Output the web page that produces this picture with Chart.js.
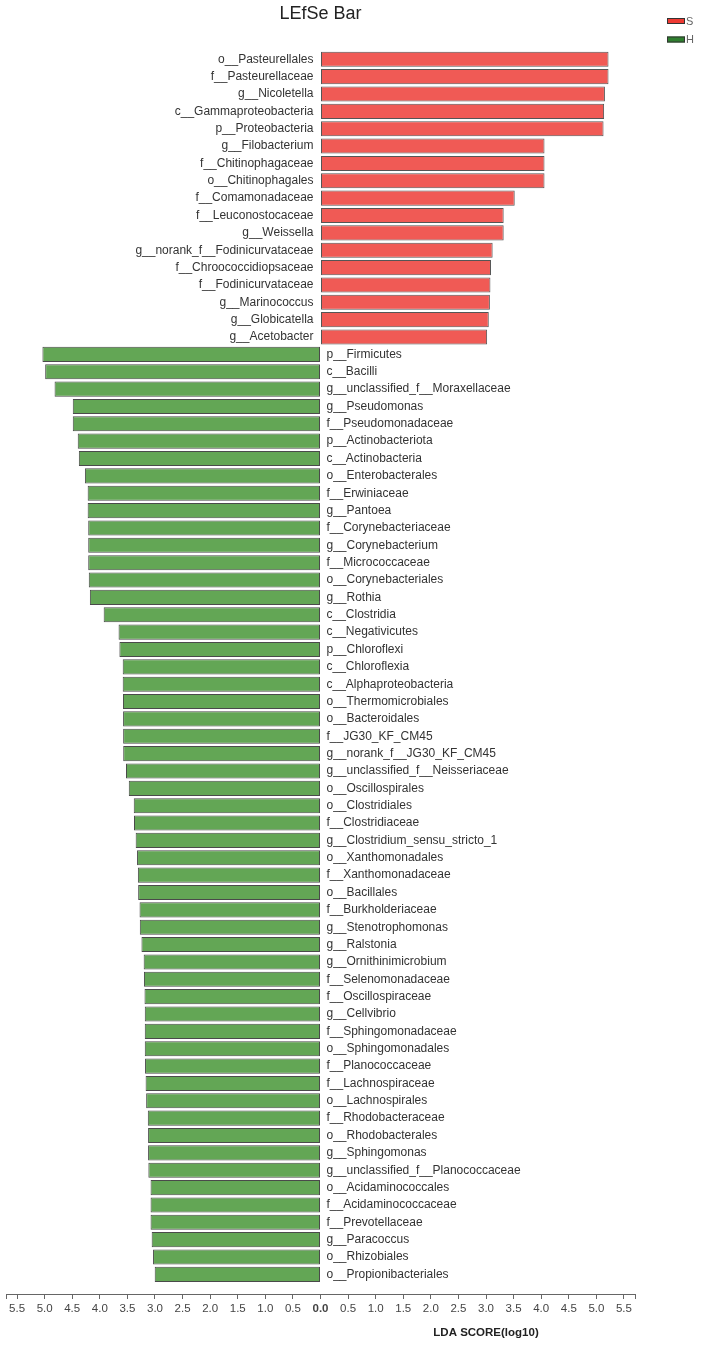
<!DOCTYPE html>
<html>
<head>
<meta charset="utf-8">
<title>LEfSe Bar</title>
<script src="https://cdn.jsdelivr.net/npm/chart.js@4.4.1/dist/chart.umd.min.js"></script>
<style>
  html, body { margin: 0; padding: 0; background: #fff; }
  #wrap { width: 702px; height: 1346px; }
</style>
</head>
<body>
<div id="wrap"><canvas id="lefse" width="702" height="1346"></canvas></div>
<script>
// groups and colours
const groups = ['S', 'H'];
const barColors = ['#F05A55', '#63A655'];
const legendColors = ['#EE3A33', '#2F7F2F'];

// taxa enriched in S (positive side)
const sLabels = [
  'o__Pasteurellales', 'f__Pasteurellaceae', 'g__Nicoletella', 'c__Gammaproteobacteria',
  'p__Proteobacteria', 'g__Filobacterium', 'f__Chitinophagaceae', 'o__Chitinophagales',
  'f__Comamonadaceae', 'f__Leuconostocaceae', 'g__Weissella', 'g__norank_f__Fodinicurvataceae',
  'f__Chroococcidiopsaceae', 'f__Fodinicurvataceae', 'g__Marinococcus', 'g__Globicatella',
  'g__Acetobacter'
];
const sScores = [5.22, 5.22, 5.155, 5.14, 5.13, 4.06, 4.06, 4.06, 3.52, 3.32, 3.32,
  3.12, 3.09, 3.08, 3.07, 3.05, 3.02];

// taxa enriched in H (drawn to the left)
const hLabels = [
  'p__Firmicutes', 'c__Bacilli', 'g__unclassified_f__Moraxellaceae', 'g__Pseudomonas',
  'f__Pseudomonadaceae', 'p__Actinobacteriota', 'c__Actinobacteria', 'o__Enterobacterales',
  'f__Erwiniaceae', 'g__Pantoea', 'f__Corynebacteriaceae', 'g__Corynebacterium',
  'f__Micrococcaceae', 'o__Corynebacteriales', 'g__Rothia', 'c__Clostridia',
  'c__Negativicutes', 'p__Chloroflexi', 'c__Chloroflexia', 'c__Alphaproteobacteria',
  'o__Thermomicrobiales', 'o__Bacteroidales', 'f__JG30_KF_CM45', 'g__norank_f__JG30_KF_CM45',
  'g__unclassified_f__Neisseriaceae', 'o__Oscillospirales', 'o__Clostridiales', 'f__Clostridiaceae',
  'g__Clostridium_sensu_stricto_1', 'o__Xanthomonadales', 'f__Xanthomonadaceae', 'o__Bacillales',
  'f__Burkholderiaceae', 'g__Stenotrophomonas', 'g__Ralstonia', 'g__Ornithinimicrobium',
  'f__Selenomonadaceae', 'f__Oscillospiraceae', 'g__Cellvibrio', 'f__Sphingomonadaceae',
  'o__Sphingomonadales', 'f__Planococcaceae', 'f__Lachnospiraceae', 'o__Lachnospirales',
  'f__Rhodobacteraceae', 'o__Rhodobacterales', 'g__Sphingomonas', 'g__unclassified_f__Planococcaceae',
  'o__Acidaminococcales', 'f__Acidaminococcaceae', 'f__Prevotellaceae', 'g__Paracoccus',
  'o__Rhizobiales', 'o__Propionibacteriales'
];
const hScores = [5.04, 4.99, 4.82, 4.49, 4.49, 4.40, 4.38, 4.27, 4.22, 4.22,
  4.21, 4.21, 4.21, 4.20, 4.18, 3.93, 3.66, 3.645, 3.585, 3.585,
  3.58, 3.578, 3.577, 3.576, 3.525, 3.475, 3.385, 3.38, 3.35, 3.325,
  3.31, 3.305, 3.28, 3.275, 3.245, 3.205, 3.20, 3.19, 3.185, 3.185,
  3.185, 3.18, 3.17, 3.16, 3.13, 3.125, 3.125, 3.12, 3.08, 3.08,
  3.08, 3.06, 3.035, 3.005];

// x axis
const xMin = -5.7, xMax = 5.7;
const tickValues = [-5.7, -5.5, -5.0, -4.5, -4.0, -3.5, -3.0, -2.5, -2.0, -1.5, -1.0, -0.5, 0,
  0.5, 1.0, 1.5, 2.0, 2.5, 3.0, 3.5, 4.0, 4.5, 5.0, 5.5, 5.7];
const axisTitle = 'LDA SCORE(log10)';

const rowCount = sLabels.length + hLabels.length;
const FONT = '"Liberation Sans", Arial, sans-serif';
Chart.defaults.font.family = FONT;

// nom des taxons a cote de l'axe zero
const taxonLabels = {
  id: 'taxonLabels',
  afterDatasetsDraw(chart) {
    const ctx = chart.ctx;
    const x0 = chart.scales.x.getPixelForValue(0);
    ctx.save();
    ctx.font = '12px ' + FONT;
    ctx.fillStyle = '#333';
    ctx.textBaseline = 'middle';
    chart.data.datasets.forEach((ds, d) => {
      const meta = chart.getDatasetMeta(d);
      meta.data.forEach((bar, i) => {
        const positive = ds.data[i].x >= 0;
        ctx.textAlign = positive ? 'right' : 'left';
        ctx.fillText(ds.names[i], positive ? x0 - 7 : x0 + 6, bar.y);
      });
    });
    ctx.restore();
  }
};

// legende en haut a droite + titre de l'axe
const extras = {
  id: 'extras',
  afterDraw(chart) {
    const ctx = chart.ctx;
    const area = chart.chartArea;
    ctx.save();
    groups.forEach((g, i) => {
      const y = 18 + i * 18.5;
      ctx.fillStyle = legendColors[i];
      ctx.fillRect(667, y, 18, 6);
      ctx.strokeStyle = '#333';
      ctx.lineWidth = 1;
      ctx.strokeRect(667.5, y + 0.5, 17, 5);
      ctx.fillStyle = '#666';
      ctx.font = '11px ' + FONT;
      ctx.textAlign = 'left';
      ctx.textBaseline = 'middle';
      ctx.fillText(g, 686, y + 3.5);
    });
    ctx.fillStyle = '#222';
    ctx.font = 'bold 11.5px ' + FONT;
    ctx.textAlign = 'center';
    ctx.textBaseline = 'middle';
    ctx.fillText(axisTitle, chart.scales.x.getPixelForValue(3.0), area.bottom + 39);
    ctx.restore();
  }
};

new Chart(document.getElementById('lefse'), {
  type: 'bar',
  data: {
    datasets: [
      {
        label: groups[0],
        names: sLabels,
        data: sScores.map((v, i) => ({ x: v, y: i })),
        backgroundColor: barColors[0],
        borderColor: '#555',
        borderWidth: 1,
        borderSkipped: false
      },
      {
        label: groups[1],
        names: hLabels,
        data: hScores.map((v, i) => ({ x: -v, y: sLabels.length + i })),
        backgroundColor: barColors[1],
        borderColor: '#4a4a4a',
        borderWidth: 1,
        borderSkipped: false
      }
    ]
  },
  options: {
    indexAxis: 'y',
    responsive: false,
    animation: false,
    grouped: false,
    barPercentage: 0.87,
    categoryPercentage: 1.0,
    layout: { padding: { left: 6, right: 67, top: 0, bottom: 22 } },
    plugins: {
      legend: { display: false },
      tooltip: { enabled: false },
      title: {
        display: true,
        text: 'LEfSe Bar',
        color: '#222',
        font: { size: 18, weight: 'normal' },
        padding: { top: 3, bottom: 26 }
      }
    },
    scales: {
      x: {
        type: 'linear',
        min: xMin,
        max: xMax,
        afterBuildTicks(scale) {
          scale.ticks = tickValues.map(v => ({ value: v }));
        },
        afterFit(scale) { scale.height = 30; },
        grid: { display: true, drawOnChartArea: false, drawTicks: true, tickLength: 5, color: '#666' },
        border: { display: true, color: '#666' },
        ticks: {
          autoSkip: false,
          maxRotation: 0,
          padding: 3,
          color: '#444',
          font: c => ({ size: 11.5, weight: (c.tick && c.tick.value === 0) ? 'bold' : 'normal' }),
          callback: v => Math.abs(v) > 5.6 ? '' : Math.abs(v).toFixed(1)
        }
      },
      y: {
        type: 'linear',
        reverse: true,
        display: false,
        offset: false,
        grace: 0,
        min: -0.5,
        max: rowCount - 0.5 + 0.63,
        afterBuildTicks(scale) {
          scale.ticks = [{ value: -0.5 }, { value: rowCount - 0.5 + 0.63 }];
        }
      }
    }
  },
  plugins: [taxonLabels, extras]
});
</script>
</body>
</html>
